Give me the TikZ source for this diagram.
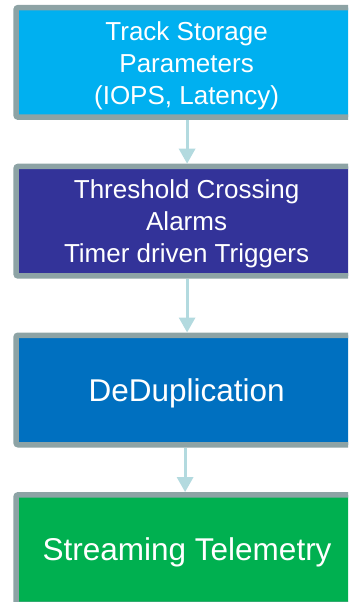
\documentclass[tikz,border=0pt]{standalone}
\usepackage{fontspec}
\setmainfont{Liberation Sans}
\usetikzlibrary{arrows.meta}
\definecolor{bordergrey}{HTML}{8DA3A5}
\definecolor{arrowblue}{HTML}{B3DADF}
\definecolor{cyanbox}{HTML}{00B0F0}
\definecolor{indigobox}{HTML}{333399}
\definecolor{bluebox}{HTML}{0070C0}
\definecolor{greenbox}{HTML}{00B050}
\tikzset{
  flowbox/.style={draw=bordergrey, line width=5.5pt, rounded corners=2pt,
    minimum width=342pt, minimum height=109.5pt, inner sep=0pt},
  boxtext/.style={text=white, align=center, inner sep=0pt},
  smalltext/.style={boxtext, font=\fontsize{26}{32}\selectfont},
  bigtext/.style={boxtext, font=\fontsize{31.5}{38}\selectfont},
  flowarrow/.style={draw=arrowblue, line width=3pt,
    -{Triangle[width=16pt,length=15pt]}}
}
\begin{document}
\begin{tikzpicture}[x=1pt,y=1pt]
\useasboundingbox (0,0) rectangle (348,-602);
\clip (0,0) rectangle (348,-602);
\node[flowbox, fill=cyanbox] (track) at (187.1,-62.4) {};
\node[smalltext] (tracktext) at ([xshift=-0.5pt,yshift=-3.5pt]track.center)
  {Track Storage\\Parameters\\(IOPS, Latency)};
\node[flowbox, fill=indigobox] (thresh) at (187.1,-221.2) {};
\node[smalltext] (threshtext) at ([xshift=-0.5pt,yshift=-2.5pt]thresh.center)
  {Threshold Crossing\\Alarms\\Timer driven Triggers};
\node[flowbox, fill=bluebox] (dedup) at (187.1,-390) {};
\node[bigtext] (deduptext) at ([xshift=-0.5pt,yshift=-3pt]dedup.center)
  {DeDuplication};
\node[flowbox, fill=greenbox] (stream) at (187.1,-549.6) {};
\node[bigtext] (streamtext) at ([yshift=-3pt]stream.center)
  {Streaming Telemetry};
\draw[flowarrow] (track.south) -- (thresh.north);
\draw[flowarrow] (thresh.south) -- (dedup.north);
\draw[flowarrow] ([xshift=-2pt]dedup.south) -- ([xshift=-2pt]stream.north);
\end{tikzpicture}
\end{document}
